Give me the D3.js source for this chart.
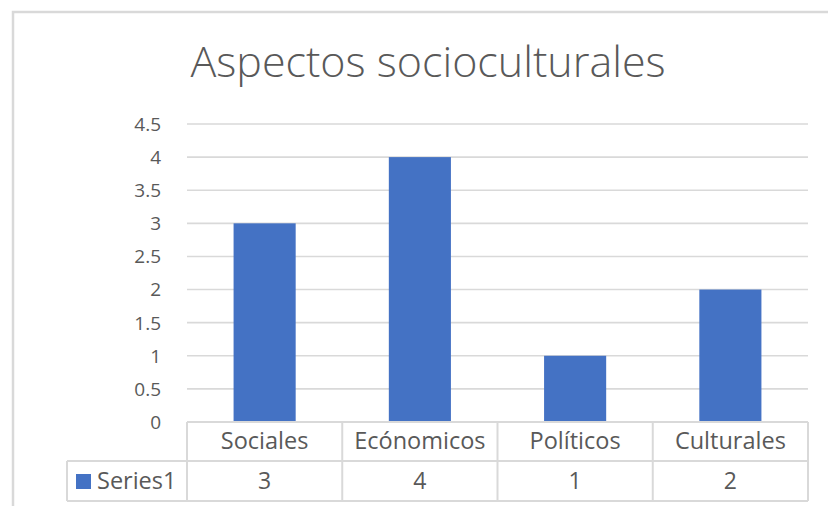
<!DOCTYPE html>
<html>
<head>
<meta charset="utf-8">
<script src="https://cdn.jsdelivr.net/npm/d3@7"></script>
<style>
  body { margin: 0; background: #fff; }
  text { font-family: "Open Sans", "Noto Sans", sans-serif; fill: #595959; }
</style>
</head>
<body>
<svg id="chart" width="828" height="506"></svg>
<script>
const TITLE = 'Aspectos socioculturales';
const SERIES_NAME = 'Series1';
const categories = ['Sociales', 'Ecónomicos', 'Políticos', 'Culturales'];
const values = [3, 4, 1, 2];
const yTicks = [0, 0.5, 1, 1.5, 2, 2.5, 3, 3.5, 4, 4.5];

const GRID = '#d9d9d9';
const BAR = '#4472c4';

function drawChart() {
  let svg = d3.select('#chart');

  // chart border (only top and left visible in the crop)
  svg.append('rect')
    .attr('x', 13).attr('y', 12)
    .attr('width', 840).attr('height', 520)
    .attr('fill', 'none').attr('stroke', GRID).attr('stroke-width', 2.5);

  svg.append('text')
    .attr('x', 428).attr('y', 77)
    .attr('text-anchor', 'middle')
    .style('font-size', '43px')
    .style('font-weight', 300)
    .text(TITLE);

  let left = 187, right = 808, top = 124, bottom = 422;
  let y = d3.scaleLinear().domain([0, 4.5]).range([bottom, top]);
  let x = d3.scaleBand().domain(categories).range([left, right])
    .paddingInner(0.6).paddingOuter(0.3);
  let cell = d3.scaleBand().domain(categories).range([left, right]);

  // gridlines
  svg.append('g').selectAll('line')
    .data(yTicks.filter(t => t > 0))
    .join('line')
    .attr('x1', left).attr('x2', right)
    .attr('y1', d => y(d)).attr('y2', d => y(d))
    .attr('stroke', GRID).attr('stroke-width', 1.6);

  // y labels
  svg.append('g').selectAll('text')
    .data(yTicks)
    .join('text')
    .attr('x', 161).attr('y', d => y(d))
    .attr('dy', '0.36em')
    .attr('text-anchor', 'end')
    .style('font-size', '19px')
    .text(d => d);

  // bars
  svg.append('g').selectAll('rect')
    .data(values)
    .join('rect')
    .attr('x', (d, i) => x(categories[i]))
    .attr('width', x.bandwidth())
    .attr('y', d => y(d))
    .attr('height', d => y(0) - y(d))
    .attr('fill', BAR);

  // data table
  let row1 = bottom, row2 = 461, row3 = 501, legendLeft = 67;
  let table = svg.append('g').attr('stroke', GRID).attr('stroke-width', 2);
  table.append('line').attr('x1', left).attr('x2', right).attr('y1', row1).attr('y2', row1);
  table.append('line').attr('x1', legendLeft).attr('x2', right).attr('y1', row2).attr('y2', row2);
  table.append('line').attr('x1', legendLeft).attr('x2', right).attr('y1', row3).attr('y2', row3);
  table.append('line').attr('x1', legendLeft).attr('x2', legendLeft).attr('y1', row2).attr('y2', row3);
  table.selectAll('line.v')
    .data(categories.map(c => cell(c)).concat([right]))
    .join('line')
    .attr('class', 'v')
    .attr('x1', d => d).attr('x2', d => d)
    .attr('y1', row1).attr('y2', row3);

  svg.append('g').selectAll('text')
    .data(categories)
    .join('text')
    .attr('x', d => cell(d) + cell.bandwidth() / 2)
    .attr('y', 449)
    .attr('text-anchor', 'middle')
    .style('font-size', '23.5px')
    .text(d => d);

  svg.append('g').selectAll('text')
    .data(values)
    .join('text')
    .attr('x', (d, i) => cell(categories[i]) + cell.bandwidth() / 2)
    .attr('y', 489)
    .attr('text-anchor', 'middle')
    .style('font-size', '23px')
    .text(d => d);

  svg.append('rect')
    .attr('x', 76).attr('y', 474)
    .attr('width', 15).attr('height', 15)
    .attr('fill', BAR);
  svg.append('text')
    .attr('x', 97).attr('y', 489)
    .style('font-size', '23.5px')
    .text(SERIES_NAME);
}

drawChart();
</script>
</body>
</html>
